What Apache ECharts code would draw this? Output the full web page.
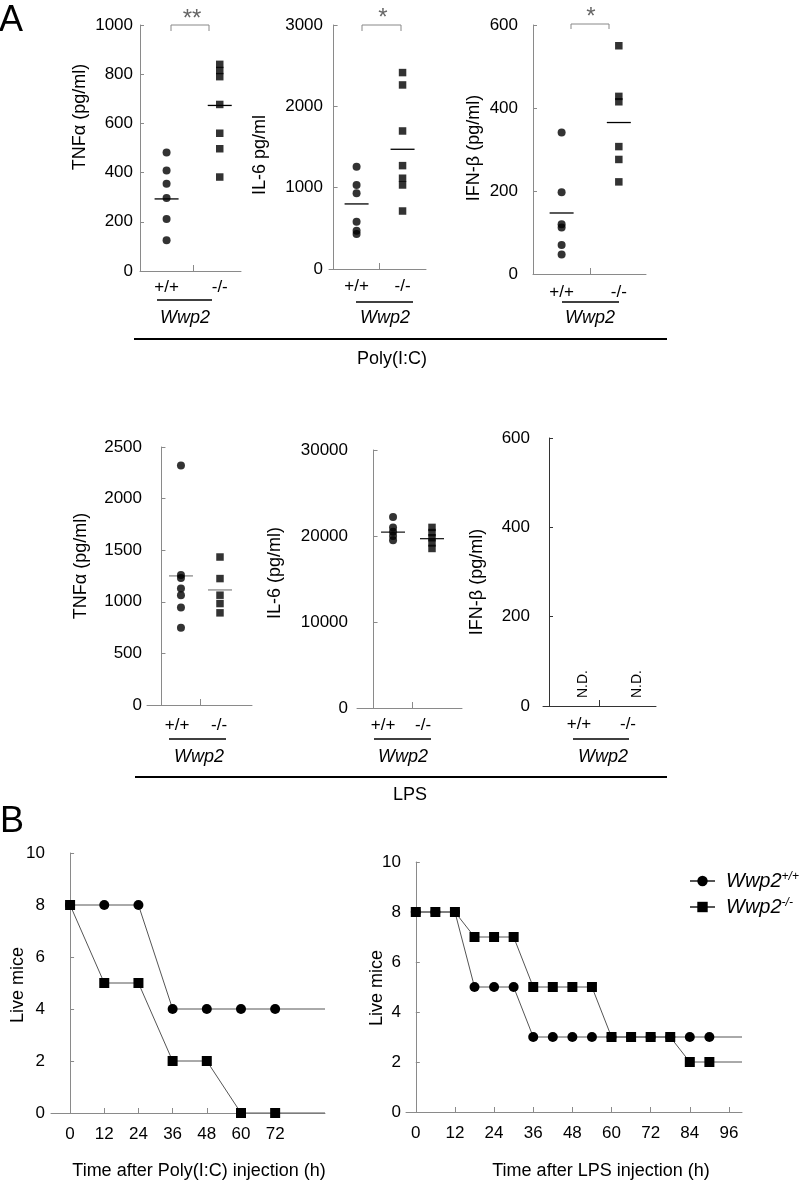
<!DOCTYPE html>
<html><head><meta charset="utf-8">
<script src="https://cdn.jsdelivr.net/npm/echarts@6/dist/echarts.min.js"></script>
<style>html,body{margin:0;padding:0;background:#fff}#c{width:799px;height:1186px}</style>
</head><body><div id="c"></div>
<script>
// ---------- data ----------
const groups = ['+/+', '-/-'];
const gene = 'Wwp2';

const polyTnfWT = [482, 409, 355, 297, 211, 125];
const polyTnfKO = [840, 815, 790, 677, 560, 497, 382];
const polyTnfMean = [293, 673];

const polyIl6WT = [1258, 1033, 931, 582, 470, 430];
const polyIl6KO = [2415, 2263, 1697, 1271, 1116, 1033, 713];
const polyIl6Mean = [800, 1472];

const polyIfnWT = [341, 197, 120, 112, 70, 47];
const polyIfnKO = [550, 428, 415, 307, 276, 222];
const polyIfnMean = [147, 365];

const lpsTnfWT = [2321, 1260, 1230, 1128, 1064, 945, 748];
const lpsTnfKO = [1434, 1225, 1064, 983, 893];
const lpsTnfMean = [1251, 1115];

const lpsIl6WT = [22200, 21000, 20500, 20000, 19500];
const lpsIl6KO = [21000, 20400, 19800, 19200, 18550];
const lpsIl6Mean = [20450, 19690];

const lpsIfnText = 'N.D.';

const polyHours = [0, 12, 24, 36, 48, 60, 72];
const polyAliveWT = [8, 8, 8, 4, 4, 4, 4];
const polyAliveKO = [8, 5, 5, 2, 2, 0, 0];
const polyTicks = [0, 12, 24, 36, 48, 60, 72];

const lpsHours = [0, 6, 12, 18, 24, 30, 36, 42, 48, 54, 60, 66, 72, 78, 84, 90];
const lpsAliveWT = [8, 8, 8, 5, 5, 5, 3, 3, 3, 3, 3, 3, 3, 3, 3, 3];
const lpsAliveKO = [8, 8, 8, 7, 7, 7, 5, 5, 5, 5, 3, 3, 3, 3, 2, 2];
const lpsTicks = [0, 12, 24, 36, 48, 60, 72, 84, 96];

const seriesNames = ['Wwp2+/+', 'Wwp2-/-'];

// ---------- layout ----------
const FONT = "'Liberation Sans', Arial, Helvetica, sans-serif";
const AX = '#8a8a8a';
const plain = (v) => String(v);
const panels = [
  {grid:{left:140,top:25,width:101,height:246}, x:[0,3.8], y:[1000,200], wt:polyTnfWT, ko:polyTnfKO, mean:polyTnfMean, labelPos:[1,3], lm:8, ym:7, meanColor:'#000'},
  {grid:{left:329,top:25,width:97,height:244}, x:[-0.2,4.02], y:[3000,1000], wt:polyIl6WT, ko:polyIl6KO, mean:polyIl6Mean, labelPos:[1,3], lm:9, ym:6, meanColor:'#000'},
  {grid:{left:533,top:25,width:113,height:249}, x:[0,3.95], y:[600,200], wt:polyIfnWT, ko:polyIfnKO, mean:polyIfnMean, labelPos:[1,3], lm:10, ym:15, meanColor:'#000'},
  {grid:{left:147,top:447,width:105,height:258}, x:[-0.74,4.64], y:[2500,500], wt:lpsTnfWT, ko:lpsTnfKO, mean:lpsTnfMean, labelPos:[0.8,2.95], lm:12, ym:5, meanColor:'#8a8a8a'},
  {grid:{left:357,top:450,width:105,height:258}, x:[-0.85,4.54], y:[30000,10000], wt:lpsIl6WT, ko:lpsIl6KO, mean:lpsIl6Mean, labelPos:[0.49,2.54], lm:9, ym:9, meanColor:'#222'},
  {grid:{left:543,top:438,width:113,height:268}, x:[-0.24,4.28], y:[600,200], wt:null, ko:null, mean:null, labelPos:[1.2,3.16], lm:10, ym:13, axisColor:'#333'}
];
const catX = [1, 3];
const surv = [
  {grid:{left:51,top:853,width:274,height:260}, x:[-6.7,89.5], hours:polyHours, wt:polyAliveWT, ko:polyAliveKO, ticks:polyTicks, ym:6},
  {grid:{left:406,top:862,width:336,height:250}, x:[-3,100], hours:lpsHours, wt:lpsAliveWT, ko:lpsAliveKO, ticks:lpsTicks, ym:5}
];

const grids = [], xAxes = [], yAxes = [], series = [];
panels.forEach((p, i) => {
  grids.push(p.grid);
  const ac = p.axisColor || AX;
  xAxes.push({type:'value', gridIndex:i, min:p.x[0], max:p.x[1],
    axisLine:{show:true, onZero:false, lineStyle:{color:ac, width:1}},
    splitLine:{show:false},
    axisTick:{show:true, inside:true, length:6, customValues:[2], lineStyle:{color:ac}},
    axisLabel:{show:true, customValues:p.labelPos, formatter:(v)=>groups[p.labelPos.indexOf(v)],
      margin:p.lm, fontSize:17, color:'#000', fontFamily:FONT}});
  yAxes.push({type:'value', gridIndex:i, min:0, max:p.y[0], interval:p.y[1],
    axisLine:{show:true, lineStyle:{color:ac, width:1}},
    axisTick:{show:true, inside:true, length:4, lineStyle:{color:ac}},
    splitLine:{show:false},
    axisLabel:{fontSize:17, color:'#000', margin:p.ym, fontFamily:FONT, formatter:plain}});
  if (p.wt) {
    series.push({type:'scatter', xAxisIndex:i, yAxisIndex:i, symbol:'circle', symbolSize:8,
      itemStyle:{color:'#000'}, silent:true, data:p.wt.map(v=>[catX[0], v])});
    series.push({type:'scatter', xAxisIndex:i, yAxisIndex:i, symbol:'rect', symbolSize:7.5,
      itemStyle:{color:'#000'}, silent:true, data:p.ko.map(v=>[catX[1], v])});
    series.push({type:'custom', xAxisIndex:i, yAxisIndex:i, silent:true,
      data:p.mean.map((v,k)=>[catX[k], v]),
      renderItem:(params, api)=>{
        const c = api.coord([api.value(0), api.value(1)]);
        return {type:'line', shape:{x1:c[0]-12, y1:c[1], x2:c[0]+12, y2:c[1]},
          style:{stroke:p.meanColor, lineWidth:1.3}};
      }});
  }
});
surv.forEach((s, j) => {
  const i = panels.length + j;
  grids.push(s.grid);
  xAxes.push({type:'value', gridIndex:i, min:s.x[0], max:s.x[1],
    axisLine:{show:true, onZero:false, lineStyle:{color:AX}},
    splitLine:{show:false},
    axisTick:{show:true, inside:true, length:5, customValues:s.ticks, lineStyle:{color:AX}},
    axisLabel:{show:true, customValues:s.ticks, margin:13, fontSize:17, color:'#000', fontFamily:FONT}});
  yAxes.push({type:'value', gridIndex:i, min:0, max:10, interval:2,
    axisLine:{show:true, lineStyle:{color:AX}},
    axisTick:{show:true, inside:true, length:4, lineStyle:{color:AX}},
    splitLine:{show:false},
    axisLabel:{fontSize:17, color:'#000', margin:s.ym, fontFamily:FONT}});
  const mk = (vals, sym, name) => ({type:'line', name, xAxisIndex:i, yAxisIndex:i, symbol:sym, symbolSize:10,
    itemStyle:{color:'#000'}, lineStyle:{color:'#555', width:1}, silent:true,
    data:s.hours.map((h,k)=>[h, vals[k]]).concat([{value:[s.x[1], vals[vals.length-1]], symbol:'none'}])});
  series.push(mk(s.wt, 'circle', seriesNames[0]));
  series.push(mk(s.ko, 'rect', seriesNames[1]));
});

// ---------- annotations ----------
function T(x, y, text, size, opt) {
  opt = opt || {};
  return {type:'text', x, y, rotation:opt.rot || 0, silent:true, z:10,
    style:{text, fill:opt.color || '#000', fontSize:size, fontFamily:FONT, fontStyle:opt.italic ? 'italic' : 'normal',
      align:opt.align || 'center', textAlign:opt.align || 'center', verticalAlign:'middle', textVerticalAlign:'middle'}};
}
function L(x1, y1, x2, y2, w, c) {
  return {type:'line', silent:true, shape:{x1, y1, x2, y2}, style:{stroke:c || '#000', lineWidth:w || 1}};
}
function B(x1, x2, yTop, yLeg) {
  return {type:'polyline', silent:true, shape:{points:[[x1,yLeg],[x1,yTop],[x2,yTop],[x2,yLeg]]}, style:{stroke:'#888', fill:null, lineWidth:1}};
}
const R = Math.PI / 2;
const graphic = [
  T(11, 21, 'A', 36), T(12, 822, 'B', 36),
  // brackets + stars
  B(171, 209, 25, 31), T(192, 19, '**', 24, {color:'#666'}),
  B(362, 401, 25, 31), T(383, 18, '*', 24, {color:'#666'}),
  B(571, 609, 24, 29), T(591, 17, '*', 24, {color:'#666'}),
  // y titles
  T(80, 117, 'TNFα (pg/ml)', 18, {rot:R}),
  T(260, 155, 'IL-6 pg/ml', 18, {rot:R}),
  T(474, 148, 'IFN-β (pg/ml)', 18, {rot:R}),
  T(81, 566, 'TNFα (pg/ml)', 18, {rot:R}),
  T(275, 573, 'IL-6 (pg/ml)', 18, {rot:R}),
  T(477, 582, 'IFN-β (pg/ml)', 18, {rot:R}),
  T(18, 985, 'Live mice', 18, {rot:R}),
  T(377, 988, 'Live mice', 18, {rot:R}),
  // genotype underlines and gene labels
  L(157, 300, 212, 300, 1.5), T(185, 318, gene, 18, {italic:true}),
  L(356, 302, 413, 302, 1.5), T(385, 318, gene, 18, {italic:true}),
  L(562, 302, 619, 302, 1.5), T(590, 318, gene, 18, {italic:true}),
  L(169, 739, 226, 739, 1.5), T(199, 757, gene, 18, {italic:true}),
  L(374, 739, 431, 739, 1.5), T(403, 757, gene, 18, {italic:true}),
  L(573, 739, 629, 739, 1.5), T(603, 757, gene, 18, {italic:true}),
  // treatment bars
  L(134, 339, 667, 339, 2), T(392, 359, 'Poly(I:C)', 18),
  L(135, 777, 667, 777, 2), T(410, 795, 'LPS', 18),
  // N.D.
  T(583, 684, lpsIfnText, 14, {rot:R}), T(637, 684, lpsIfnText, 14, {rot:R}),
  // survival x titles
  T(199, 1171, 'Time after Poly(I:C) injection (h)', 18),
  T(601, 1171, 'Time after LPS injection (h)', 18)
];

const chart = echarts.init(document.getElementById('c'), null, {renderer:'canvas'});
chart.setOption({
  animation:false,
  backgroundColor:'#fff',
  textStyle:{fontFamily:FONT},
  grid:grids, xAxis:xAxes, yAxis:yAxes, series,
  legend:{data:seriesNames, orient:'vertical', left:684, top:866, itemWidth:25, itemHeight:13, itemGap:6,
    selectedMode:false,
    formatter:(n)=>'{i|' + gene + '}{s|' + n.slice(gene.length) + '}',
    textStyle:{color:'#000', fontSize:20, fontFamily:FONT, fontStyle:'italic',
      rich:{i:{fontSize:20, fontStyle:'italic', fontFamily:FONT, padding:[0,0,0,6]},
            s:{fontSize:12, fontStyle:'italic', fontFamily:FONT, verticalAlign:'top'}}}},
  graphic
});
</script></body></html>
